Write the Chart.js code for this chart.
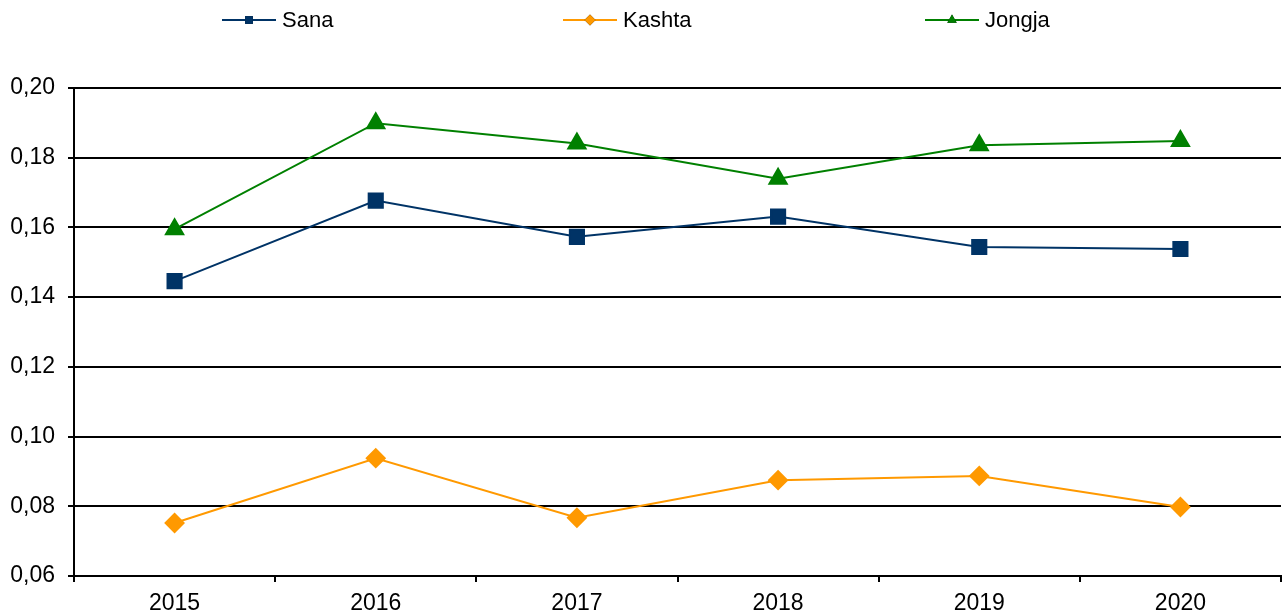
<!DOCTYPE html>
<html>
<head>
<meta charset="utf-8">
<script src="https://cdn.jsdelivr.net/npm/chart.js@4/dist/chart.umd.min.js"></script>
<style>
  html, body { margin: 0; padding: 0; background: #fff; }
  #wrap { width: 1285px; height: 616px; position: relative; }
</style>
</head>
<body>
<div id="wrap"><canvas id="chart"></canvas></div>
<script>
const years = ['2015', '2016', '2017', '2018', '2019', '2020'];
const sana = [0.1446, 0.1677, 0.1573, 0.1631, 0.1544, 0.1538];
const kashta = [0.0752, 0.0938, 0.0767, 0.0875, 0.0887, 0.0798];
const jongja = [0.1595, 0.1899, 0.1841, 0.1740, 0.1836, 0.1848];
const yTicks = [0.06, 0.08, 0.10, 0.12, 0.14, 0.16, 0.18, 0.20];

const FONT = '"Liberation Sans", Arial, sans-serif';

// legend drawn on top: line with marker, then the label
const topLegend = {
  id: 'topLegend',
  afterDraw(chart) {
    const ctx = chart.ctx;
    const starts = [222, 563, 925];
    const y = 20;
    ctx.save();
    chart.data.datasets.forEach((ds, i) => {
      const x = starts[i];
      ctx.strokeStyle = ds.borderColor;
      ctx.lineWidth = 2;
      ctx.beginPath();
      ctx.moveTo(x, y);
      ctx.lineTo(x + 54, y);
      ctx.stroke();
      Chart.helpers.drawPoint(ctx, {
        pointStyle: ds.pointStyle,
        radius: 5.5,
        rotation: 0,
        borderWidth: 0
      }, x + 27, y);
      ctx.fillStyle = ds.backgroundColor;
      ctx.fill();
      ctx.fillStyle = '#000';
      ctx.font = '22px ' + FONT;
      ctx.textBaseline = 'middle';
      ctx.textAlign = 'left';
      ctx.fillText(ds.label, x + 60, y + 1);
    });
    ctx.restore();
  }
};

new Chart(document.getElementById('chart').getContext('2d'), {
  type: 'line',
  data: {
    labels: years,
    datasets: [
      {
        label: 'Sana',
        data: sana,
        borderColor: '#003366',
        backgroundColor: '#003366',
        pointStyle: 'rect',
        pointRadius: 10,
        borderWidth: 2
      },
      {
        label: 'Kashta',
        data: kashta,
        borderColor: '#FF9900',
        backgroundColor: '#FF9900',
        pointStyle: 'rectRot',
        pointRadius: 9,
        borderWidth: 2
      },
      {
        label: 'Jongja',
        data: jongja,
        borderColor: '#008000',
        backgroundColor: '#008000',
        pointStyle: 'triangle',
        pointRadius: 10,
        borderWidth: 2
      }
    ]
  },
  options: {
    responsive: true,
    maintainAspectRatio: false,
    animation: false,
    layout: { autoPadding: false, padding: { top: 88, right: 4, bottom: 0, left: 0 } },
    elements: {
      point: { borderWidth: 0, hoverRadius: 10 },
      line: { tension: 0 }
    },
    scales: {
      x: {
        offset: true,
        grid: {
          offset: true,
          drawOnChartArea: false,
          drawTicks: true,
          tickLength: 6,
          color: '#000',
          lineWidth: 2
        },
        border: { display: true, color: '#000', width: 2 },
        ticks: {
          color: '#000',
          font: { family: FONT, size: 23 },
          padding: 8,
          maxRotation: 0
        },
        afterFit: (s) => { s.height = 40; }
      },
      y: {
        min: 0.06,
        max: 0.20,
        afterBuildTicks: (s) => { s.ticks = yTicks.map(v => ({ value: v })); },
        grid: {
          color: '#000',
          lineWidth: 2,
          tickLength: 6
        },
        border: { display: true, color: '#000', width: 2 },
        ticks: {
          color: '#000',
          font: { family: FONT, size: 23 },
          padding: 13,
          callback: (v) => Number(v).toFixed(2).replace('.', ',')
        },
        afterFit: (s) => { s.width = 74; }
      }
    },
    plugins: {
      legend: { display: false },
      tooltip: { enabled: true }
    }
  },
  plugins: [topLegend]
});
</script>
</body>
</html>
